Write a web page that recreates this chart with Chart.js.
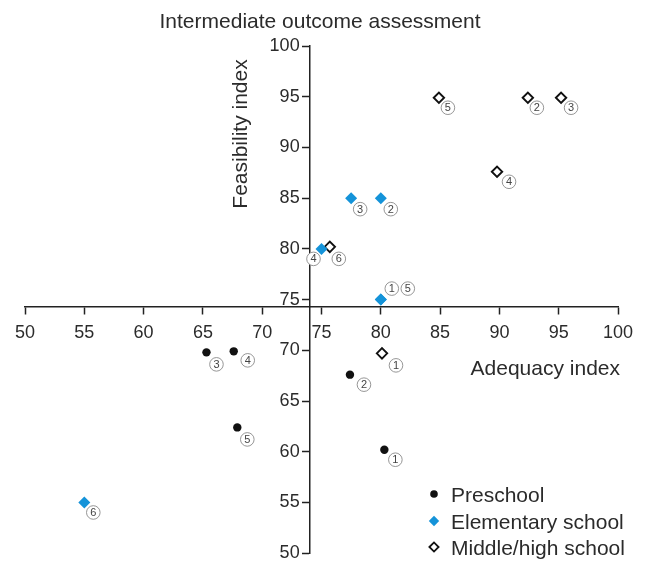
<!DOCTYPE html>
<html>
<head>
<meta charset="utf-8">
<script src="https://cdn.jsdelivr.net/npm/chart.js@4/dist/chart.umd.min.js"></script>
<style>
  html, body { margin: 0; padding: 0; background: #fff; }
  #wrap { width: 647px; height: 566px; position: relative; }
</style>
</head>
<body>
<div id="wrap"><canvas id="c" width="647" height="566"></canvas></div>
<script>
// ---- data ----
const chartTitle = 'Intermediate outcome assessment';
const xTitle = 'Adequacy index';
const yTitle = 'Feasibility index';
const seriesNames = ['Preschool', 'Elementary school', 'Middle/high school'];

const preschoolX = [80.3, 77.4, 65.3, 67.6, 67.9];
const preschoolY = [60.2, 67.6, 69.8, 69.9, 62.4];
const preschoolIds = ['1', '2', '3', '4', '5'];

const elementaryX = [80, 80, 77.5, 75, 80, 55];
const elementaryY = [75, 85, 85, 80, 75, 55];
const elementaryIds = ['1', '2', '3', '4', '5', '6'];

const middleX = [80.1, 92.4, 95.2, 89.8, 84.9, 75.7];
const middleY = [69.7, 94.9, 94.9, 87.6, 94.9, 80.2];
const middleIds = ['1', '2', '3', '4', '5', '6'];

const axisMin = 50, axisMax = 100, axisStep = 5;
const crossX = 74, crossY = 74.3;

// ---- styles (label offsets in px) ----
const preschoolOffsets = [[11, 10], [14, 10], [10, 12], [14, 9], [10, 12]];
const elementaryOffsets = [[11, -11], [10, 11], [9, 11], [-8, 10], [27, -11], [9, 10]];
const middleOffsets = [[14, 12], [9, 10], [10, 10], [12, 10], [9, 10], [9, 12]];

const BLUE = '#1493d9';
const INK = '#2b2b2b';
const FONT = '"Liberation Sans", Arial, sans-serif';

function pts(xs, ys) { return xs.map((x, i) => ({ x: x, y: ys[i] })); }

const idsBySet = [preschoolIds, elementaryIds, middleIds];
const offsBySet = [preschoolOffsets, elementaryOffsets, middleOffsets];

const labelPlugin = {
  id: 'circledLabels',
  afterDatasetsDraw(chart) {
    const ctx = chart.ctx;
    ctx.save();
    chart.data.datasets.forEach((ds, di) => {
      const meta = chart.getDatasetMeta(di);
      meta.data.forEach((el, i) => {
        const off = offsBySet[di][i];
        const cx = el.x + off[0], cy = el.y + off[1];
        ctx.beginPath();
        ctx.arc(cx, cy, 6.8, 0, Math.PI * 2);
        ctx.fillStyle = '#fff';
        ctx.fill();
        ctx.lineWidth = 0.9;
        ctx.strokeStyle = '#8a8a8a';
        ctx.stroke();
        ctx.fillStyle = '#444';
        ctx.font = '11px ' + FONT;
        ctx.textAlign = 'center';
        ctx.textBaseline = 'middle';
        ctx.fillText(idsBySet[di][i], cx, cy + 0.5);
      });
    });
    ctx.restore();
  }
};

const textPlugin = {
  id: 'texts',
  afterDraw(chart) {
    const ctx = chart.ctx;
    ctx.save();
    ctx.fillStyle = INK;
    ctx.font = '21px ' + FONT;
    ctx.textBaseline = 'alphabetic';
    // title
    ctx.textAlign = 'center';
    ctx.fillText(chartTitle, 320, 28);
    // x title
    ctx.textAlign = 'right';
    ctx.fillText(xTitle, 620, 375);
    // y title
    ctx.save();
    ctx.translate(247, 134);
    ctx.rotate(-Math.PI / 2);
    ctx.textAlign = 'center';
    ctx.fillText(yTitle, 0, 0);
    ctx.restore();

    // legend
    const lx = 434, ty = [494, 521, 547];
    chart.data.datasets.forEach((ds, di) => {
      const y = ty[di];
      ctx.beginPath();
      if (di === 0) {
        ctx.arc(lx, y, 3.8, 0, Math.PI * 2);
        ctx.fillStyle = '#111';
        ctx.fill();
      } else if (di === 1) {
        const r = 5.2;
        ctx.moveTo(lx - r, y); ctx.lineTo(lx, y - r); ctx.lineTo(lx + r, y); ctx.lineTo(lx, y + r); ctx.closePath();
        ctx.fillStyle = BLUE;
        ctx.fill();
      } else {
        const r = 4.6;
        ctx.moveTo(lx - r, y); ctx.lineTo(lx, y - r); ctx.lineTo(lx + r, y); ctx.lineTo(lx, y + r); ctx.closePath();
        ctx.fillStyle = '#fff';
        ctx.fill();
        ctx.lineWidth = 1.8;
        ctx.strokeStyle = '#111';
        ctx.stroke();
      }
      ctx.fillStyle = INK;
      ctx.font = '21px ' + FONT;
      ctx.textAlign = 'left';
      ctx.textBaseline = 'alphabetic';
      ctx.fillText(ds.label, 451, y + 7.5);
    });
    ctx.restore();
  }
};

new Chart(document.getElementById('c'), {
  type: 'scatter',
  data: {
    datasets: [
      {
        label: seriesNames[0],
        data: pts(preschoolX, preschoolY),
        pointStyle: 'circle',
        pointRadius: 4.2,
        pointHoverRadius: 4.2,
        backgroundColor: '#111',
        borderColor: '#111',
        borderWidth: 0
      },
      {
        label: seriesNames[1],
        data: pts(elementaryX, elementaryY),
        pointStyle: 'rectRot',
        pointRadius: 6,
        pointHoverRadius: 6,
        backgroundColor: BLUE,
        borderColor: BLUE,
        borderWidth: 0
      },
      {
        label: seriesNames[2],
        data: pts(middleX, middleY),
        pointStyle: 'rectRot',
        pointRadius: 5.2,
        pointHoverRadius: 5.2,
        backgroundColor: '#fff',
        borderColor: '#111',
        borderWidth: 1.9
      }
    ]
  },
  options: {
    responsive: false,
    animation: false,
    events: [],
    layout: { padding: { left: 25, right: 29, top: 46, bottom: 9 } },
    plugins: { legend: { display: false }, tooltip: { enabled: false }, title: { display: false } },
    scales: {
      x: {
        type: 'linear',
        position: { y: crossY },
        min: axisMin, max: axisMax,
        ticks: { stepSize: axisStep, color: INK, font: { size: 18, family: FONT }, padding: 9, maxRotation: 0, autoSkip: false },
        grid: { drawOnChartArea: false, drawTicks: true, tickLength: 7, color: '#222', tickWidth: 1.5 },
        border: { display: true, color: '#222', width: 1.5 }
      },
      y: {
        type: 'linear',
        position: { x: crossX },
        min: axisMin, max: axisMax,
        ticks: {
          stepSize: axisStep, color: INK, font: { size: 18, family: FONT }, padding: 2, autoSkip: false,
          // right-aligned at the axis line: trailing spaces leave room for the tick mark
          callback: (v) => v + '  '
        },
        grid: { drawOnChartArea: false, drawTicks: true, tickLength: 7, color: '#222', tickWidth: 1.5 },
        border: { display: true, color: '#222', width: 1.5 }
      }
    }
  },
  plugins: [labelPlugin, textPlugin]
});
</script>
</body>
</html>
